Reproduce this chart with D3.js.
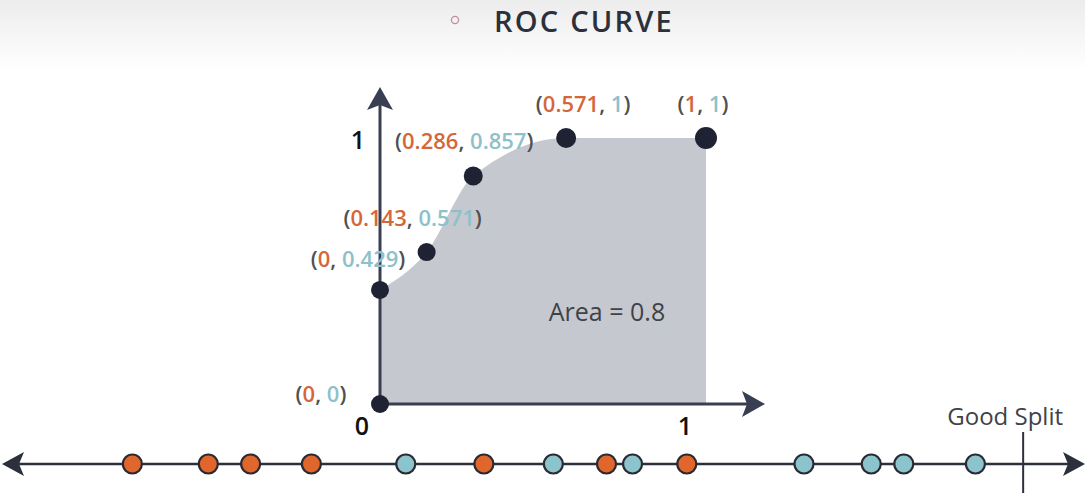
<!DOCTYPE html>
<html><head><meta charset="utf-8">
<script src="https://cdn.jsdelivr.net/npm/d3@7"></script>
<style>
html,body{margin:0;padding:0;background:#fff;}
svg{display:block;font-family:"Open Sans",sans-serif;}
</style></head>
<body>
<svg id="c" width="1085" height="502"></svg>
<script>
// ROC points (false positive rate, true positive rate)
const rocFPR = [0, 0, 0.143, 0.286, 0.571, 1];
const rocTPR = [0, 0.429, 0.571, 0.857, 1, 1];
const rocFPRLabels = ["0", "0", "0.143", "0.286", "0.571", "1"];
const rocTPRLabels = ["0", "0.429", "0.571", "0.857", "1", "1"];
const xTickLabels = ["0", "1"];
const yTickLabels = ["1"];
const areaValue = "0.8";
// number line: scores and classes (0 = negative/orange, 1 = positive/blue)
const scores = [0.122, 0.192, 0.231, 0.287, 0.374, 0.446, 0.510, 0.559, 0.583, 0.633, 0.741, 0.803, 0.833, 0.899];
const classes = [0, 0, 0, 0, 1, 0, 1, 0, 1, 0, 1, 1, 1, 1];
const splitScore = 0.943;
const titleText = "ROC CURVE";
const splitText = "Good Split";

const svg = d3.select("#c");
const W = 1085, H = 502;
const ORANGE = "#e0662b", BLUE = "#8cc4ce", DARK = "#3a3e52", DOT = "#1f2232";
const TORANGE = "#d4673a", TBLUE = "#8dc1ca", TGRAY = "#505050";

// background gradient at top
const defs = svg.append("defs");
const g = defs.append("linearGradient").attr("id","bg").attr("x1",0).attr("y1",0).attr("x2",0).attr("y2",1);
g.append("stop").attr("offset","0%").attr("stop-color","#ececec");
g.append("stop").attr("offset","100%").attr("stop-color","#ffffff");
svg.append("rect").attr("width",W).attr("height",70).attr("fill","url(#bg)");
svg.append("rect").attr("y",70).attr("width",W).attr("height",H-70).attr("fill","#fff");

// title
svg.append("circle").attr("cx",455).attr("cy",20).attr("r",3.6).attr("fill","none").attr("stroke","#c28d98").attr("stroke-width",1.3);
svg.append("text").attr("x",584).attr("y",32).attr("text-anchor","middle")
  .attr("font-size",29).attr("font-weight",600).attr("letter-spacing",2.2).attr("fill","#2b303b").text(titleText);

// ROC scales
const x = d3.scaleLinear().domain([0,1]).range([380,706]);
const y = d3.scaleLinear().domain([0,1]).range([404,138]);

const pts = rocFPR.map((f,i)=>({f, t:rocTPR[i], fl:rocFPRLabels[i], tl:rocTPRLabels[i]}));

// area
const areaPts = pts.slice(1);
const area = d3.area().x(d=>x(d.f)).y0(y(0)).y1(d=>y(d.t)).curve(d3.curveMonotoneX);
svg.append("path").datum(areaPts).attr("d",area).attr("fill","#c5c8cf");

// axes
function arrowPath(tx,ty,dir,len,half,notch){
  if(dir==="up") return `M${tx},${ty} L${tx+half},${ty+len} L${tx},${ty+len-notch} L${tx-half},${ty+len} Z`;
  if(dir==="right") return `M${tx},${ty} L${tx-len},${ty-half} L${tx-len+notch},${ty} L${tx-len},${ty+half} Z`;
  return `M${tx},${ty} L${tx+len},${ty-half} L${tx+len-notch},${ty} L${tx+len},${ty+half} Z`;
}
const ax = svg.append("g");
ax.append("line").attr("x1",x(0)).attr("y1",y(0)+1).attr("x2",x(0)).attr("y2",96).attr("stroke",DARK).attr("stroke-width",3);
ax.append("path").attr("d",arrowPath(x(0),87,"up",23,13,5)).attr("fill",DARK);
ax.append("line").attr("x1",x(0)-1).attr("y1",y(0)).attr("x2",755).attr("y2",y(0)).attr("stroke",DARK).attr("stroke-width",3);
ax.append("path").attr("d",arrowPath(765,y(0),"right",23,13,5)).attr("fill",DARK);

// tick labels
const tickStyle = s => s.attr("text-anchor","middle").attr("font-size",25).attr("font-weight",600).attr("fill","#111");
svg.append("text").attr("x",x(0)-18).attr("y",y(0)+31).call(tickStyle).text(xTickLabels[0]);
svg.append("text").attr("x",x(1)-21).attr("y",y(0)+31).call(tickStyle).text(xTickLabels[1]);
svg.append("text").attr("x",x(0)-22).attr("y",y(1)+11).call(tickStyle).text(yTickLabels[0]);

// area label
svg.append("text").attr("x",607).attr("y",321).attr("text-anchor","middle").attr("font-size",25).attr("font-weight",500).attr("fill","#3f4249").text("Area = " + areaValue);

// dots
const radii = [9,9,9,9.5,10,11];
svg.append("g").selectAll("circle").data(pts).join("circle")
  .attr("cx",d=>x(d.f)).attr("cy",d=>y(d.t)).attr("r",(d,i)=>radii[i]).attr("fill",DOT);

// dot labels
const ldx = [-59,-22,-14,-9,17,-3];
const ldy = [-2,-23,-26,-27,-26,-26];
const lab = svg.append("g").attr("font-size",22).attr("font-weight",600);
pts.forEach((d,i)=>{
  const t = lab.append("text").attr("x",x(d.f)+ldx[i]).attr("y",y(d.t)+ldy[i]).attr("text-anchor","middle");
  t.append("tspan").attr("fill",TGRAY).text("(");
  t.append("tspan").attr("fill",TORANGE).text(d.fl);
  t.append("tspan").attr("fill",TGRAY).text(", ");
  t.append("tspan").attr("fill",TBLUE).text(d.tl);
  t.append("tspan").attr("fill",TGRAY).text(")");
});

// number line
const sx = d3.scaleLinear().domain([0,1]).range([0,1085]);
const LY = 464;
svg.append("line").attr("x1",15).attr("y1",LY).attr("x2",1072).attr("y2",LY).attr("stroke","#2c2f3c").attr("stroke-width",2.5);
svg.append("path").attr("d",arrowPath(2,LY,"left",22,12,5)).attr("fill","#2c2f3c");
svg.append("path").attr("d",arrowPath(1085,LY,"right",22,12,5)).attr("fill","#2c2f3c");
svg.append("line").attr("x1",sx(splitScore)).attr("y1",432).attr("x2",sx(splitScore)).attr("y2",493).attr("stroke","#2c2f3c").attr("stroke-width",2);
svg.append("text").attr("x",sx(splitScore)-18).attr("y",425).attr("text-anchor","middle").attr("font-size",24).attr("font-weight",500).attr("fill","#3f4249").text(splitText);
svg.append("g").selectAll("circle").data(scores).join("circle")
  .attr("cx",d=>sx(d)).attr("cy",LY).attr("r",9.5)
  .attr("fill",(d,i)=>classes[i]?BLUE:ORANGE).attr("stroke","#2a2a33").attr("stroke-width",2.2);
</script>
</body></html>
